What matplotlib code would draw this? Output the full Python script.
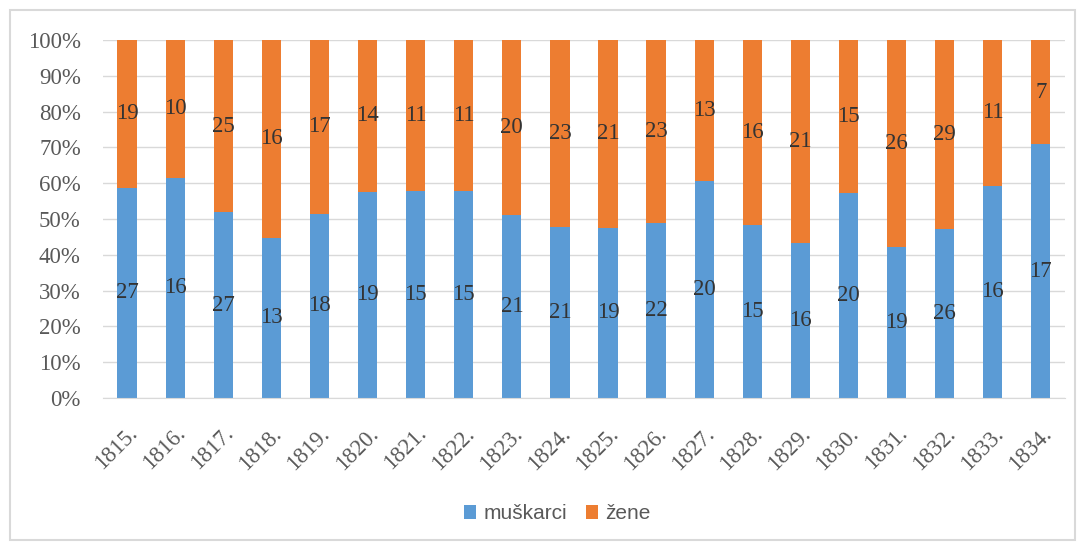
import matplotlib
matplotlib.use("Agg")
import numpy as np
import matplotlib.pyplot as plt
from matplotlib.patches import Rectangle

years = ["1815.", "1816.", "1817.", "1818.", "1819.", "1820.", "1821.", "1822.", "1823.", "1824.",
         "1825.", "1826.", "1827.", "1828.", "1829.", "1830.", "1831.", "1832.", "1833.", "1834."]
muskarci = [27, 16, 27, 13, 18, 19, 15, 15, 21, 21, 19, 22, 20, 15, 16, 20, 19, 26, 16, 17]
zene = [19, 10, 25, 16, 17, 14, 11, 11, 20, 23, 21, 23, 13, 16, 21, 15, 26, 29, 11, 7]

blue = "#5B9BD5"
orange = "#ED7D31"

m = np.array(muskarci, dtype=float)
z = np.array(zene, dtype=float)
tot = m + z
mp = m / tot * 100
zp = z / tot * 100
x = np.arange(len(years))

fig = plt.figure(figsize=(10.8, 5.45), dpi=100)
ax = fig.add_axes([0.0954, 0.2697, 0.8906, 0.6569])

ax.bar(x, mp, width=0.4, color=blue, label="muškarci", zorder=2)
ax.bar(x, zp, width=0.4, bottom=mp, color=orange, label="žene", zorder=2)

serif = "Liberation Serif"
for i in range(len(years)):
    ax.text(x[i], mp[i] / 2, str(muskarci[i]), ha="center", va="center",
            fontsize=16.5, color="#333333", family=serif, zorder=3)
    ax.text(x[i], mp[i] + zp[i] / 2, str(zene[i]), ha="center", va="center",
            fontsize=16.5, color="#333333", family=serif, zorder=3)

ax.set_xlim(-0.5, len(years) - 0.5)
ax.set_ylim(0, 100)
ax.set_yticks(np.arange(0, 101, 10))
ax.set_yticklabels([f"{v}%" for v in range(0, 101, 10)], family=serif, fontsize=16.5, color="#595959")
ax.set_xticks(x)
ax.set_xticklabels(years, rotation=45, ha="right", rotation_mode="anchor",
                   family=serif, fontsize=16.5, color="#595959")
ax.tick_params(axis="y", length=0, pad=16)
ax.tick_params(axis="x", length=0, pad=18)
ax.grid(axis="y", color="#D9D9D9", linewidth=1, zorder=0)
for s in ["top", "right", "left"]:
    ax.spines[s].set_visible(False)
ax.spines["bottom"].set_color("#D9D9D9")

leg = fig.legend(loc="center", bbox_to_anchor=(0.516, 0.057), ncol=2, frameon=False,
                 prop={"family": "Liberation Sans", "size": 15},
                 handlelength=0.6, handleheight=0.6, handletextpad=0.35, columnspacing=0.9)
for t in leg.get_texts():
    t.set_color("#595959")

fig.patches.append(Rectangle((10 / 1080, 5 / 545), 1065 / 1080, 530 / 545, transform=fig.transFigure,
                             fill=False, edgecolor="#D9D9D9", linewidth=1.5))

fig.savefig("out.png", dpi=100)
